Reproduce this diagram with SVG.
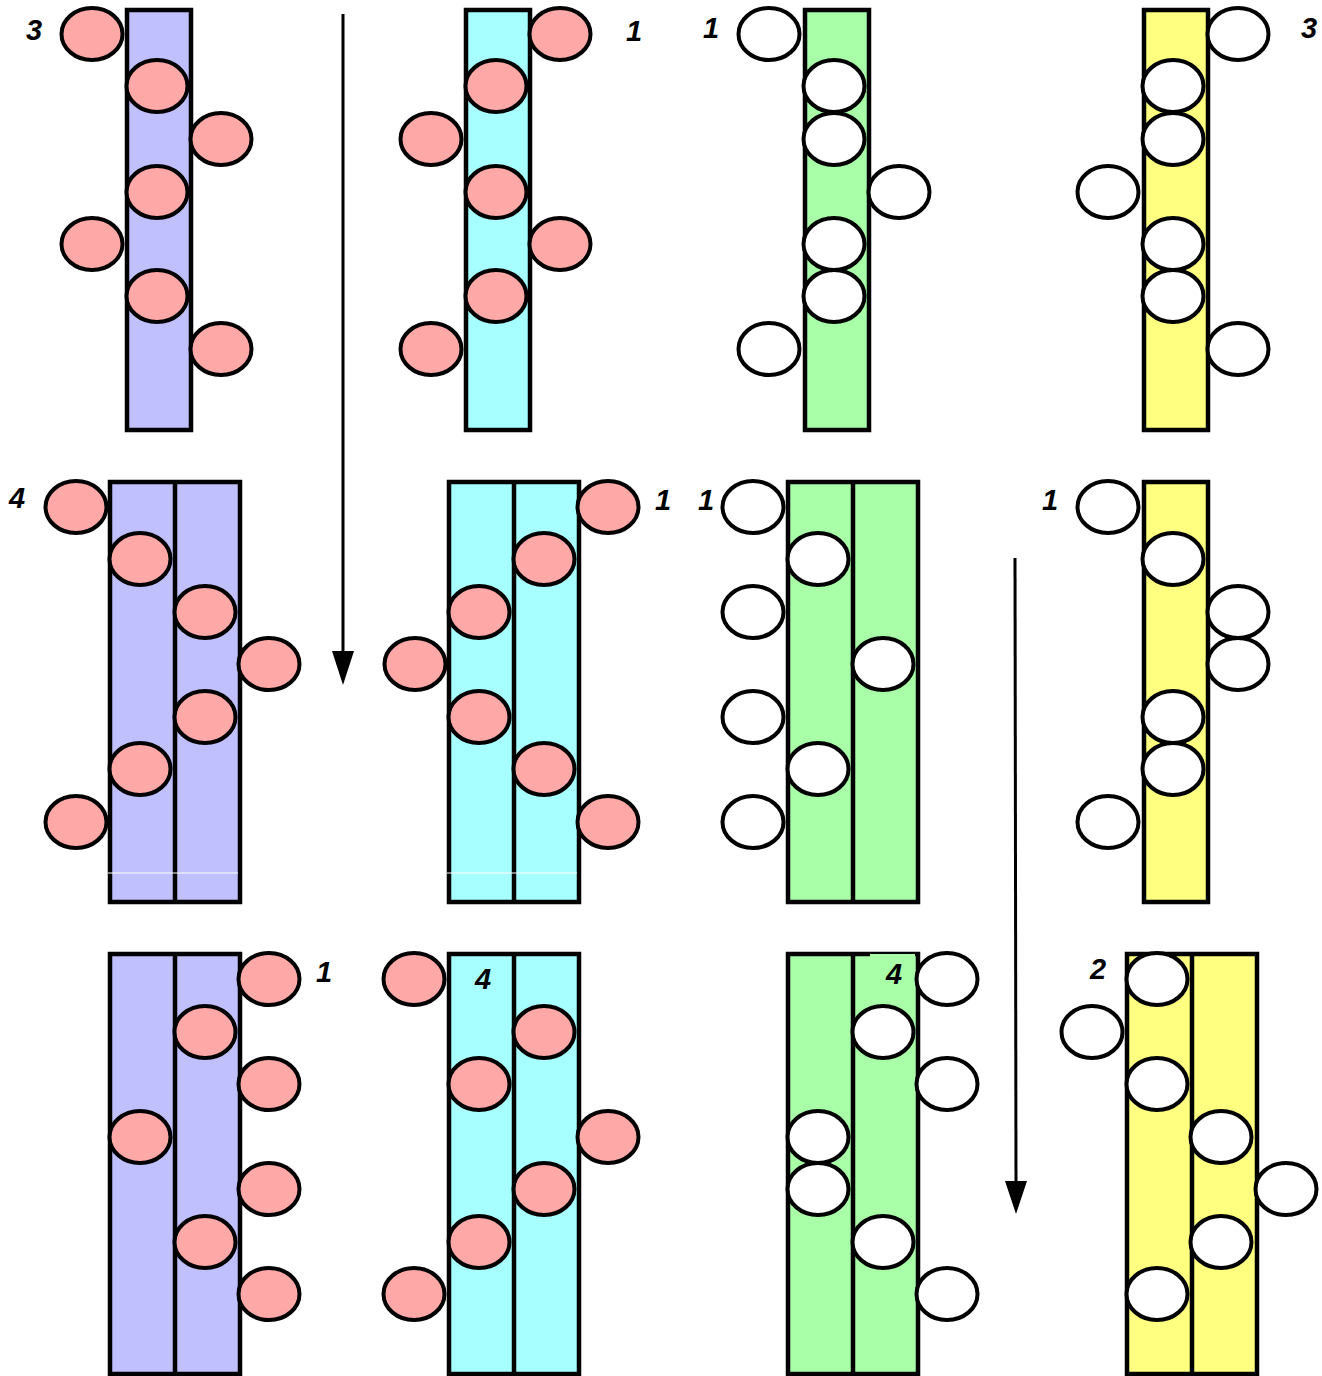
<svg xmlns="http://www.w3.org/2000/svg" width="1322" height="1376" viewBox="0 0 1322 1376">
<style>
.r{stroke:#000;stroke-width:4.5}
.b{fill:#C0C0FF}.c{fill:#A8FFFF}.g{fill:#A8FFA8}.y{fill:#FFFF80}
.d{stroke:#000;stroke-width:4.5}
.p{fill:#FFA8A8;stroke:#000;stroke-width:4}
.w{fill:#FFFFFF;stroke:#000;stroke-width:4}
.t{font-family:"Liberation Sans",Arial,sans-serif;font-size:29px;font-weight:bold;font-style:italic;fill:#000;text-anchor:middle}
.ln{stroke:#fff;stroke-width:1}
</style>
<defs>
<ellipse id="e" cx="0" cy="0" rx="30.5" ry="26"/>
</defs>
<rect width="1322" height="1376" fill="#fff"/>

<g id="n1">
<rect class="r b" x="127" y="10" width="64" height="420"/>
<use href="#e" class="p" x="92" y="34"/><use href="#e" class="p" x="157" y="86"/><use href="#e" class="p" x="221" y="139"/><use href="#e" class="p" x="157" y="192"/><use href="#e" class="p" x="92" y="244"/><use href="#e" class="p" x="157" y="296"/><use href="#e" class="p" x="221" y="349"/>
<text class="t" x="34" y="40">3</text>
</g>
<g id="n2">
<rect class="r c" x="466" y="10" width="64" height="420"/>
<use href="#e" class="p" x="560" y="34"/><use href="#e" class="p" x="496" y="86"/><use href="#e" class="p" x="431" y="139"/><use href="#e" class="p" x="496" y="192"/><use href="#e" class="p" x="560" y="244"/><use href="#e" class="p" x="496" y="296"/><use href="#e" class="p" x="431" y="349"/>
<text class="t" x="634" y="41">1</text>
</g>
<g id="n3">
<rect class="r g" x="805" y="10" width="64" height="420"/>
<use href="#e" class="w" x="769" y="34"/><use href="#e" class="w" x="834" y="86"/><use href="#e" class="w" x="834" y="139"/><use href="#e" class="w" x="899" y="192"/><use href="#e" class="w" x="834" y="244"/><use href="#e" class="w" x="834" y="296"/><use href="#e" class="w" x="769" y="349"/>
<text class="t" x="711" y="38">1</text>
</g>
<g id="n4">
<rect class="r y" x="1144" y="10" width="64" height="420"/>
<use href="#e" class="w" x="1238" y="34"/><use href="#e" class="w" x="1173" y="86"/><use href="#e" class="w" x="1173" y="139"/><use href="#e" class="w" x="1108" y="192"/><use href="#e" class="w" x="1173" y="244"/><use href="#e" class="w" x="1173" y="296"/><use href="#e" class="w" x="1238" y="349"/>
<text class="t" x="1309" y="38">3</text>
</g>

<g id="n5">
<rect class="r b" x="110" y="482" width="130" height="420"/>
<line class="d" x1="175" y1="482" x2="175" y2="902"/>
<line class="ln" x1="108" y1="873" x2="238" y2="873"/>
<use href="#e" class="p" x="76" y="507"/><use href="#e" class="p" x="140" y="559"/><use href="#e" class="p" x="205" y="612"/><use href="#e" class="p" x="269" y="664"/><use href="#e" class="p" x="205" y="717"/><use href="#e" class="p" x="140" y="769"/><use href="#e" class="p" x="76" y="822"/>
<text class="t" x="17" y="508">4</text>
</g>
<g id="n6">
<rect class="r c" x="449" y="482" width="130" height="420"/>
<line class="d" x1="514" y1="482" x2="514" y2="902"/>
<line class="ln" x1="447" y1="873" x2="577" y2="873"/>
<use href="#e" class="p" x="608" y="507"/><use href="#e" class="p" x="544" y="559"/><use href="#e" class="p" x="479" y="612"/><use href="#e" class="p" x="415" y="664"/><use href="#e" class="p" x="479" y="717"/><use href="#e" class="p" x="544" y="769"/><use href="#e" class="p" x="608" y="822"/>
<text class="t" x="663" y="510">1</text>
</g>
<g id="n7">
<rect class="r g" x="788" y="482" width="130" height="420"/>
<line class="d" x1="853" y1="482" x2="853" y2="902"/>
<use href="#e" class="w" x="753" y="507"/><use href="#e" class="w" x="818" y="559"/><use href="#e" class="w" x="753" y="612"/><use href="#e" class="w" x="883" y="664"/><use href="#e" class="w" x="753" y="717"/><use href="#e" class="w" x="818" y="769"/><use href="#e" class="w" x="753" y="822"/>
<text class="t" x="706" y="510">1</text>
</g>
<g id="n8">
<rect class="r y" x="1144" y="482" width="64" height="420"/>
<use href="#e" class="w" x="1108" y="507"/><use href="#e" class="w" x="1173" y="559"/><use href="#e" class="w" x="1238" y="612"/><use href="#e" class="w" x="1238" y="664"/><use href="#e" class="w" x="1173" y="717"/><use href="#e" class="w" x="1173" y="769"/><use href="#e" class="w" x="1108" y="822"/>
<text class="t" x="1050" y="510">1</text>
</g>

<g id="n9">
<rect class="r b" x="110" y="954" width="130" height="420"/>
<line class="d" x1="175" y1="954" x2="175" y2="1374"/>
<use href="#e" class="p" x="269" y="979"/><use href="#e" class="p" x="205" y="1032"/><use href="#e" class="p" x="269" y="1084"/><use href="#e" class="p" x="140" y="1137"/><use href="#e" class="p" x="269" y="1189"/><use href="#e" class="p" x="205" y="1242"/><use href="#e" class="p" x="269" y="1294"/>
<text class="t" x="324" y="982">1</text>
</g>
<g id="n10">
<rect class="r c" x="449" y="954" width="130" height="420"/>
<line class="d" x1="514" y1="954" x2="514" y2="1374"/>
<use href="#e" class="p" x="414" y="979"/><use href="#e" class="p" x="544" y="1032"/><use href="#e" class="p" x="479" y="1084"/><use href="#e" class="p" x="608" y="1137"/><use href="#e" class="p" x="544" y="1189"/><use href="#e" class="p" x="479" y="1242"/><use href="#e" class="p" x="414" y="1294"/>
<text class="t" x="483" y="989">4</text>
</g>
<g id="n11">
<rect class="r g" x="788" y="954" width="130" height="420"/>
<line class="d" x1="853" y1="954" x2="853" y2="1374"/>
<rect x="870" y="954" width="45" height="38" fill="#A8FFA8"/>
<use href="#e" class="w" x="947" y="979"/><use href="#e" class="w" x="883" y="1032"/><use href="#e" class="w" x="947" y="1084"/><use href="#e" class="w" x="818" y="1137"/><use href="#e" class="w" x="818" y="1189"/><use href="#e" class="w" x="883" y="1242"/><use href="#e" class="w" x="947" y="1294"/>
<text class="t" x="894" y="984">4</text>
</g>
<g id="n12">
<rect class="r y" x="1127" y="954" width="130" height="420"/>
<line class="d" x1="1192" y1="954" x2="1192" y2="1374"/>
<use href="#e" class="w" x="1157" y="979"/><use href="#e" class="w" x="1092" y="1032"/><use href="#e" class="w" x="1157" y="1084"/><use href="#e" class="w" x="1221" y="1137"/><use href="#e" class="w" x="1286" y="1189"/><use href="#e" class="w" x="1221" y="1242"/><use href="#e" class="w" x="1157" y="1294"/>
<text class="t" x="1098" y="979">2</text>
</g>

<g id="connectors">
<line x1="343" y1="14" x2="343" y2="655" stroke="#000" stroke-width="3"/>
<polygon points="332,651 354,651 343,685" fill="#000"/>
<line x1="1015" y1="558" x2="1016" y2="1185" stroke="#000" stroke-width="3"/>
<polygon points="1005,1181 1027,1181 1016,1214" fill="#000"/>
</g>
</svg>
